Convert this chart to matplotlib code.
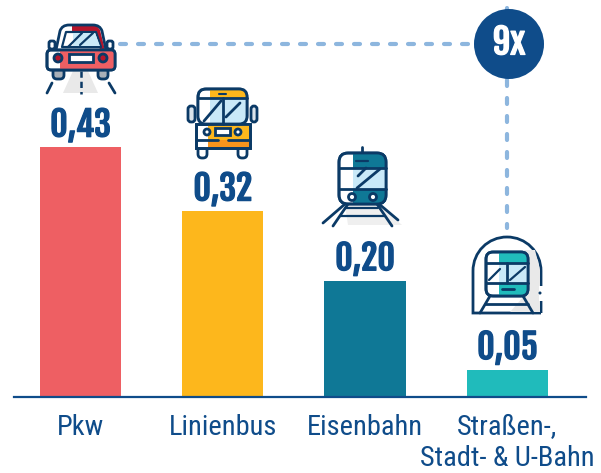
import matplotlib
matplotlib.use("Agg")
from matplotlib import pyplot as plt
from matplotlib import patheffects as pe
from matplotlib.patches import Circle, FancyBboxPatch, PathPatch, Polygon, Rectangle
from matplotlib.path import Path

categories = ["Pkw", "Linienbus", "Eisenbahn", "Straßen-,\nStadt- & U-Bahn"]
values = [0.43, 0.32, 0.20, 0.047]
value_labels = ["0,43", "0,32", "0,20", "0,05"]
bar_colors = ["#ee5f63", "#fdb71c", "#0f7896", "#20bbbb"]

NAVY = "#0f4c8a"
LINE = "#0b3a66"
GLASS = "#c9e9f8"
GREY = "#e9e9e9"
DASH = "#8db6de"
HEAD_FONT = ["Fjalla One", "Oswald", "Roboto Condensed", "DejaVu Sans"]
LABEL_FONT = ["Roboto Condensed", "Sofia Sans Condensed", "Asap Condensed", "DejaVu Sans"]
W, H = 601, 473

fig = plt.figure(figsize=(W / 100, H / 100), dpi=100)

# main axes, placed so that the baseline sits at y=397 px
ax = fig.add_axes([14 / W, (H - 397) / H, 572 / W, 397 / H])
ax.bar(range(4), values, width=0.57, color=bar_colors)
ax.set_xlim(-0.467, 3.553)
ax.set_ylim(0, 397 / 581)
ax.patch.set_alpha(0)
for s in ["top", "left", "right"]:
    ax.spines[s].set_visible(False)
ax.spines["bottom"].set_color(NAVY)
ax.spines["bottom"].set_linewidth(1.6)
ax.set_yticks([])
ax.set_xticks(range(4))
ax.set_xticklabels(categories, family=LABEL_FONT, fontsize=20.5, color=NAVY, linespacing=1.2)
ax.tick_params(axis="x", length=0, pad=12)
for i, v in enumerate(values):
    ax.annotate(value_labels[i], (i, v), xytext=(0, 2.5), textcoords="offset points",
                ha="center", va="bottom", family=HEAD_FONT, fontweight="bold",
                fontsize=24.5, color=NAVY,
                path_effects=[pe.withStroke(linewidth=0.9, foreground=NAVY)])

# overlay in pixel coordinates for the icons and the connector
ov = fig.add_axes([0, 0, 1, 1], zorder=3)
ov.set_xlim(0, W)
ov.set_ylim(H, 0)
ov.axis("off")


def rect(x0, y0, x1, y1, fc="none", ec=LINE, lw=2, r=0, z=3):
    if r:
        p = FancyBboxPatch((x0, y0), x1 - x0, y1 - y0, boxstyle=f"round,pad=0,rounding_size={r}",
                           fc=fc, ec=ec, lw=lw, zorder=z)
    else:
        p = Rectangle((x0, y0), x1 - x0, y1 - y0, fc=fc, ec=ec, lw=lw, zorder=z)
    ov.add_patch(p)


def poly(pts, fc="none", ec=LINE, lw=2, z=3):
    ov.add_patch(Polygon(pts, closed=True, fc=fc, ec=ec, lw=lw, zorder=z, joinstyle="round"))


def line(pts, lw=2, color=LINE, z=4, **kw):
    xs, ys = zip(*pts)
    ov.plot(xs, ys, color=color, lw=lw, zorder=z, solid_capstyle="round", **kw)


def circ(x, y, r, fc="white", ec=LINE, lw=2, z=5):
    ov.add_patch(Circle((x, y), r, fc=fc, ec=ec, lw=lw, zorder=z))


# connector
ov.plot([120, 478], [44, 44], color=DASH, lw=3, dashes=(1.44, 2.88), dash_capstyle="round", zorder=1)
ov.plot([507, 507], [8, 228], color=DASH, lw=3, dashes=(1.44, 2.88), dash_capstyle="round", zorder=1)
ov.add_patch(Circle((509, 44), 35, fc=NAVY, ec="none", zorder=2))
ov.text(509, 43, "9x", color="white", family=HEAD_FONT, fontweight="bold", fontsize=25,
        ha="center", va="center", zorder=3,
        path_effects=[pe.withStroke(linewidth=0.9, foreground="white")])

# car
poly([(73, 71), (88, 71), (98, 93), (63, 93)], fc=GREY, ec="none", z=1)
line([(81, 71), (81, 94)], lw=1.8, linestyle=(0, (2.5, 1.6)))
line([(52, 83), (47, 93)])
line([(109, 83), (115, 93)])
rect(53, 68, 64, 79, fc="#a9b0b8", r=4, z=2)
rect(98, 68, 108, 79, fc="#a9b0b8", r=4, z=2)
rect(49, 41, 55, 49, fc="white", r=2, z=2)
rect(107, 41, 113, 49, fc="white", r=2, z=2)
cabin = Path([(56, 50), (60, 31), (62, 25), (69, 25), (93, 25), (100, 25), (102, 31), (106, 50)],
             [Path.MOVETO, Path.LINETO, Path.CURVE3, Path.CURVE3, Path.LINETO, Path.CURVE3, Path.CURVE3, Path.LINETO])
ov.add_patch(PathPatch(cabin, fc="white", ec="none", zorder=3))
poly([(72, 26), (97, 26), (100, 30), (105, 50), (100, 50), (96, 31), (72, 31)], fc="#b5152b", ec="none", z=3)
ov.add_patch(PathPatch(cabin, fc="none", ec=LINE, lw=2, zorder=3))
poly([(62, 47), (66, 32), (96, 32), (101, 47)], fc="white", lw=1.6, z=4)
poly([(73, 46), (73, 33), (95, 33), (100, 46)], fc=GLASS, ec="none", z=4)
line([(68, 47), (82, 33)], lw=1.6, z=5)
line([(80, 45), (93, 33)], lw=1.6, z=5)
rect(47, 50, 115, 70, fc="white", r=4, z=4)
rect(60, 51, 114, 69, fc=bar_colors[0], ec="none", z=4)
rect(47, 50, 115, 70, r=4, z=5)
circ(58, 58, 4, fc="#b5152b", z=6)
circ(103, 58, 4, fc="#b5152b", z=6)
rect(69, 54, 93, 62, fc="white", z=6)

# bus
rect(188, 106, 195, 122, fc="#dbe4ec", r=3)
rect(251, 106, 257, 122, fc="#dbe4ec", r=3)
rect(198, 146, 207, 158, fc="white", r=4, z=2)
rect(238, 146, 247, 158, fc="white", r=4, z=2)
rect(198, 89, 247, 124, fc="white", r=8)
rect(210, 90, 246, 98, fc=bar_colors[1], ec="none", z=4)
rect(199, 98, 246, 123, fc=GLASS, ec="none", z=4)
rect(199, 98, 210, 123, fc="white", ec="none", z=4)
rect(198, 89, 247, 124, r=8, z=5)
line([(198, 98), (247, 98)], z=6)
line([(223, 98), (223, 124)], z=6)
line([(204, 121), (221, 101)], z=6)
line([(226, 117), (240, 103)], z=6)
line([(219, 94), (226, 94)], lw=1.5, z=6)
rect(196, 124, 250, 148, fc="white", z=4)
rect(208, 125, 249, 140, fc=bar_colors[1], ec="none", z=4)
rect(208, 140, 249, 147, fc="#f7941d", ec="none", z=4)
rect(196, 124, 250, 148, z=5)
line([(196, 140), (218, 140)], z=6)
line([(228, 140), (250, 140)], z=6)
circ(207, 132, 3)
circ(238, 132, 3)
rect(215, 128, 230, 135, fc="white", z=6)

# train
poly([(345, 205), (380, 205), (402, 225), (348, 225)], fc="#efefef", ec="none", z=1)
line([(345, 204), (323, 223)], z=2)
line([(379, 204), (398, 220)], z=2)
line([(348, 204), (333, 226)], z=2)
line([(377, 204), (392, 226)], z=2)
for y, x0, x1 in [(208, 346, 378), (216, 340, 385)]:
    line([(x0, y), (x1, y)], lw=1.6, z=2)
line([(362, 147), (362, 153)])
rect(339, 153, 386, 204, fc="white", r=9)
rect(353, 154, 385, 168, fc=bar_colors[2], ec="none", z=4)
rect(353, 168, 385, 189, fc=GLASS, ec="none", z=4)
rect(353, 189, 385, 203, fc=bar_colors[2], ec="none", z=4)
rect(339, 153, 386, 204, r=9, z=5)
line([(339, 168), (386, 168)], z=6)
line([(339, 189), (386, 189)], z=6)
line([(356, 161), (368, 161)], lw=1.6, z=6)
line([(357, 188), (380, 169)], z=6)
line([(358, 176), (366, 168)], z=6)
circ(352, 197, 3.5)
circ(373, 197, 3.5)

# tunnel with tram
verts = [(541, 313), (541, 271), (541, 252), (526, 237), (507, 237), (488, 237), (473, 252),
         (473, 271), (473, 313), (541, 313)]
codes = [Path.MOVETO, Path.LINETO, Path.CURVE4, Path.CURVE4, Path.CURVE4, Path.CURVE4, Path.CURVE4,
         Path.CURVE4, Path.LINETO, Path.LINETO]
ov.add_patch(PathPatch(Path(verts, codes), fc="white", ec=LINE, lw=2, zorder=2))
poly([(510, 312), (524, 296), (524, 250), (535, 250), (540, 270), (540, 312)], fc=GREY, ec="none", z=2)
rect(539, 286, 544, 301, fc="white", ec="none", z=3)
circ(540, 293, 0.8, fc=LINE, lw=1, z=3)
rect(486, 252, 528, 296, fc="white", r=7, z=4)
rect(499, 253, 527, 263, fc=bar_colors[3], ec="none", z=4)
rect(499, 263, 527, 283, fc=GLASS, ec="none", z=4)
rect(499, 283, 527, 295, fc=bar_colors[3], ec="none", z=4)
rect(486, 252, 528, 296, r=7, z=5)
line([(486, 263), (528, 263)], z=6)
line([(486, 283), (528, 283)], z=6)
line([(507, 263), (507, 283)], z=6)
line([(489, 280), (500, 269)], lw=1.6, z=6)
line([(510, 280), (525, 267)], lw=1.6, z=6)
line([(502, 289), (514, 289)], lw=2, z=6)
line([(490, 296), (480, 313)], z=3)
line([(523, 296), (533, 313)], z=3)
line([(485, 304), (528, 304)], z=3)

fig.savefig("out.png", dpi=100)
